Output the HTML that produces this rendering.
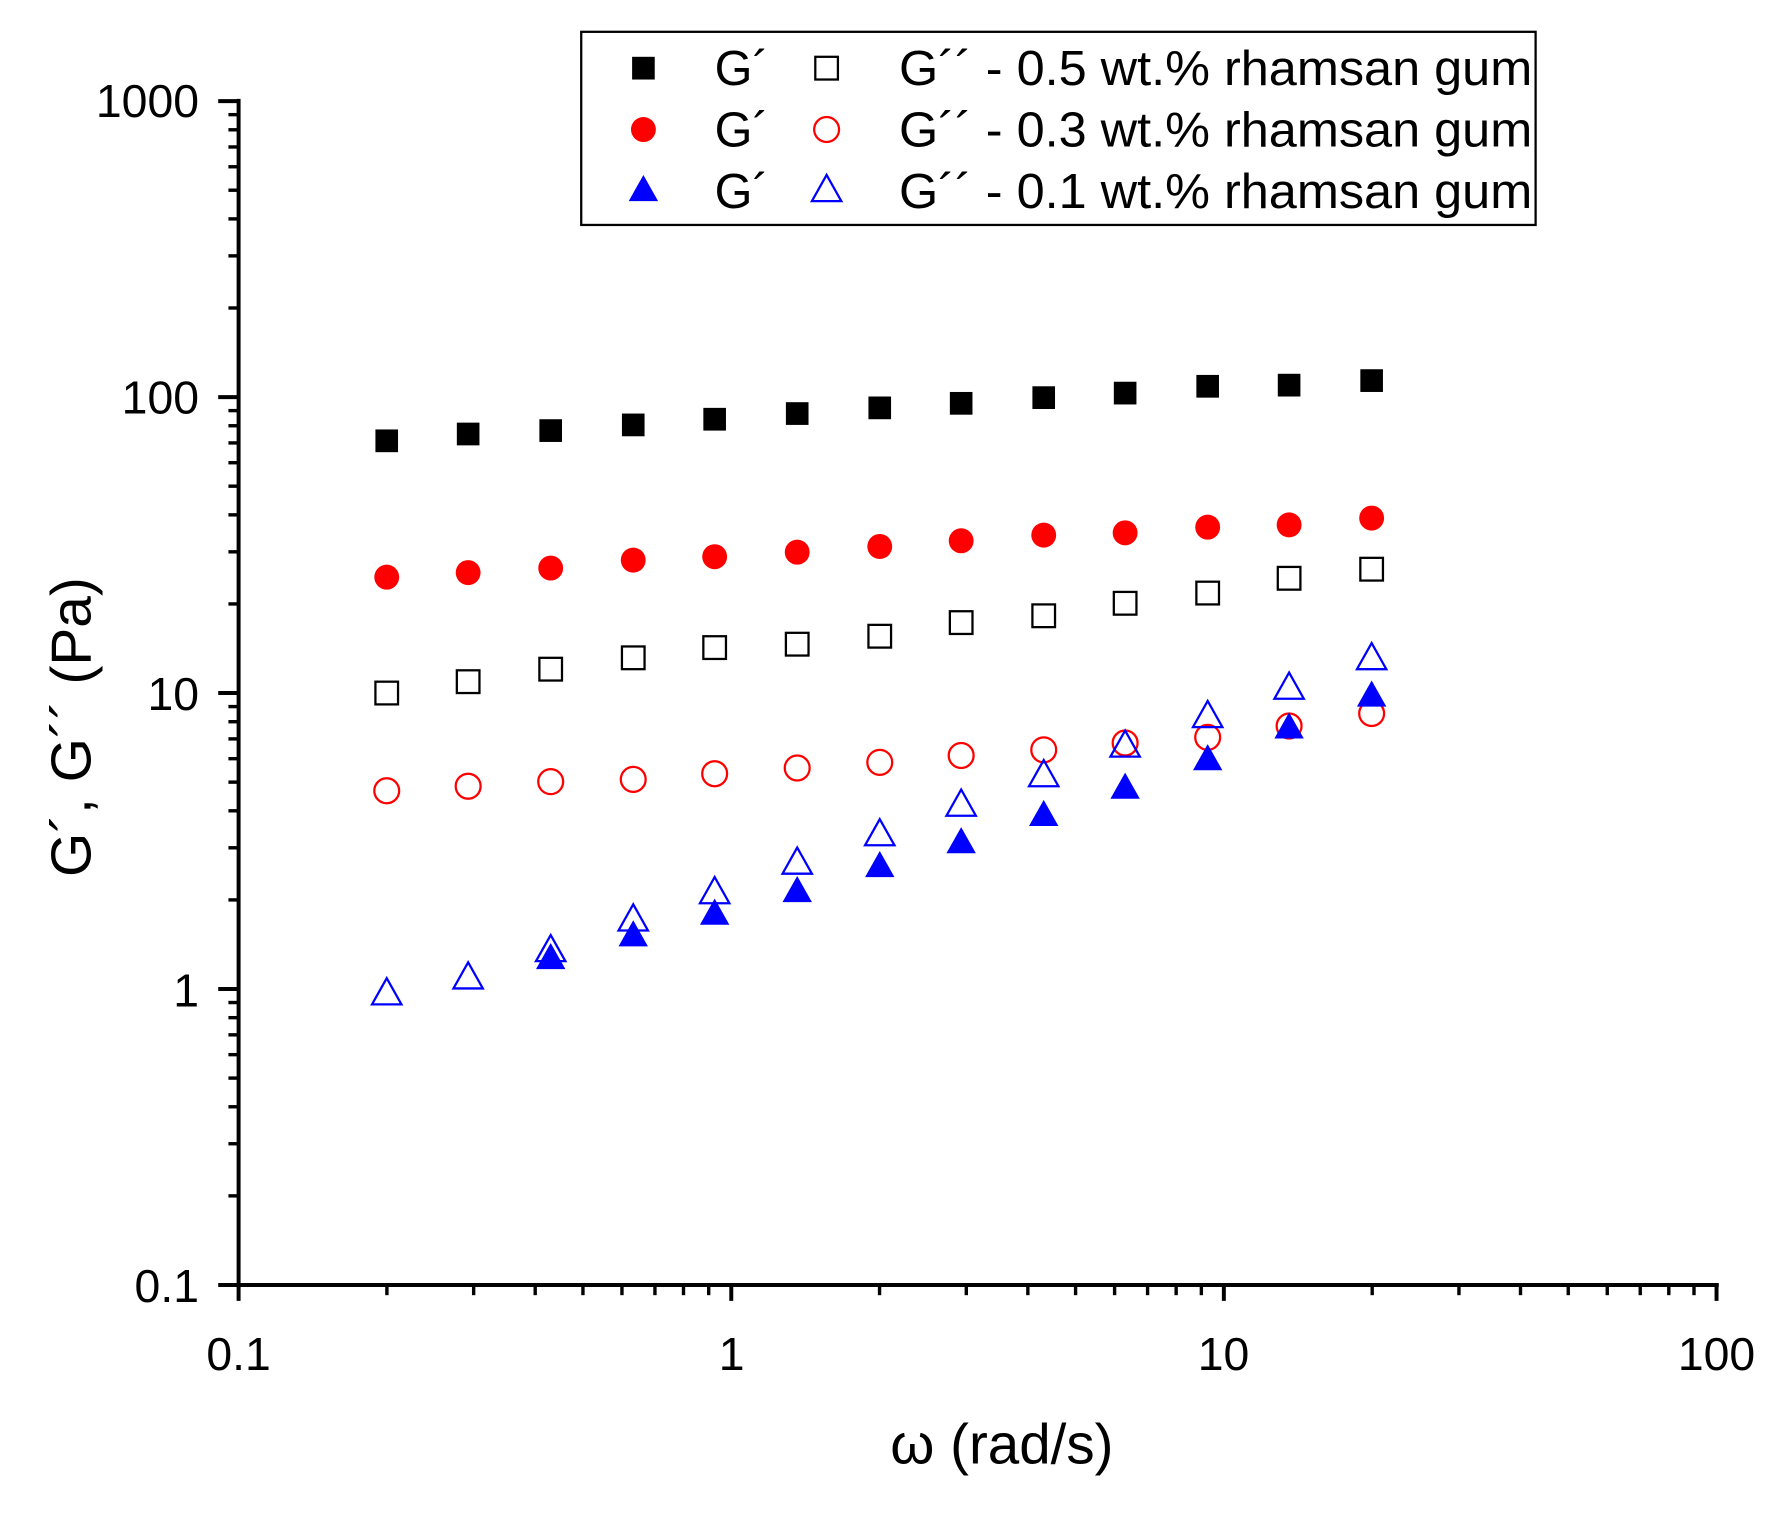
<!DOCTYPE html>
<html><head><meta charset="utf-8"><style>
html,body{margin:0;padding:0;background:#fff;}
svg{display:block;}
text{font-family:"Liberation Sans",sans-serif;}
</style></head><body>
<svg width="1772" height="1519" viewBox="0 0 1560 1337" preserveAspectRatio="none" xmlns="http://www.w3.org/2000/svg">
<defs>
<rect id="sq" x="-10" y="-10" width="20" height="20"/>
<path id="tr" d="M0,-12 L13,11 L-13,11 Z"/>
</defs>
<g transform="scale(0.9955,1)">
<g stroke="#000" stroke-width="3.5" fill="none">
<line x1="211" y1="87" x2="211" y2="1133"/>
<line x1="209" y1="1131" x2="1520" y2="1131"/>
<path d="M211,89h-18M211,349.5h-18M211,610h-18M211,870.5h-18M211,1131h-18"/>
<path d="M211,1131v14M646.7,1131v14M1082.3,1131v14M1518,1131v14"/>
</g>
<g stroke="#000" stroke-width="3" id="minor"></g>
<g font-size="41">
<text x="176" y="103" text-anchor="end">1000</text>
<text x="176" y="364" text-anchor="end">100</text>
<text x="176" y="625" text-anchor="end">10</text>
<text x="176" y="886" text-anchor="end">1</text>
<text x="176" y="1146" text-anchor="end">0.1</text>
<text x="211" y="1206" text-anchor="middle">0.1</text>
<text x="647" y="1206" text-anchor="middle">1</text>
<text x="1082" y="1206" text-anchor="middle">10</text>
<text x="1518" y="1206" text-anchor="middle">100</text>
</g>
<text x="886" y="1288" font-size="50" text-anchor="middle">ω (rad/s)</text>
<text transform="translate(80,640) rotate(-90)" font-size="50" text-anchor="middle">G´, G´´ (Pa)</text>
<rect x="514" y="28" width="844" height="170" fill="#fff" stroke="#000" stroke-width="2"/>
<use href="#sq" x="569" y="60" fill="#000"/>
<use href="#sq" x="731" y="60" fill="none" stroke="#000" stroke-width="2"/>
<circle cx="569" cy="114" r="11" fill="#f00"/>
<circle cx="731" cy="114" r="11" fill="none" stroke="#f00" stroke-width="2"/>
<use href="#tr" x="569" y="166" fill="#00f"/>
<use href="#tr" x="731" y="166" fill="none" stroke="#00f" stroke-width="2"/>
<g font-size="43">
<text x="632" y="75">G´</text><text x="795" y="75" textLength="560" lengthAdjust="spacingAndGlyphs">G´´ - 0.5 wt.% rhamsan gum</text>
<text x="632" y="129">G´</text><text x="795" y="129" textLength="560" lengthAdjust="spacingAndGlyphs">G´´ - 0.3 wt.% rhamsan gum</text>
<text x="632" y="183">G´</text><text x="795" y="183" textLength="560" lengthAdjust="spacingAndGlyphs">G´´ - 0.1 wt.% rhamsan gum</text>
</g>
<g id="data"></g>
</g>
<script>
var NS="http://www.w3.org/2000/svg";
var m=document.getElementById('minor');
function ln(x1,y1,x2,y2){var l=document.createElementNS(NS,'line');l.setAttribute('x1',x1);l.setAttribute('y1',y1);l.setAttribute('x2',x2);l.setAttribute('y2',y2);m.appendChild(l);}
for(var d=0;d<4;d++)for(var k=2;k<10;k++){var f=Math.log10(k);var y=1131-(d+f)*260.5;ln(211,y,202,y);var x=211+(d+f)*435.67;if(d<3)ln(x,1131,x,1140);}
var xs=[342,414,487,560,632,705,778,850,923,995,1068,1140,1213];
var S={
bf:[388,382,379,374,369,364,359,355,350,346,340,339,335],
rf:[508,504,500,493,490,486,481,476,471,469,464,462,456],
bo:[610,600,589,579,570,567,560,548,542,531,522,509,501],
ro:[696,692,688,686,681,676,671,665,660,654,649,639,628],
tf:[null,null,842,822,803,783,761,740,716,692,667,639,611],
to:[873,859,835,808,784,758,733,707,681,655,629,604,578]};
var g=document.getElementById('data');
function add(tag,attrs){var e=document.createElementNS(NS,tag);for(var a in attrs)e.setAttribute(a,attrs[a]);g.appendChild(e);}
xs.forEach(function(x,i){
add('use',{href:'#sq',x:x,y:S.bf[i],fill:'#000'});
add('use',{href:'#sq',x:x,y:S.bo[i],fill:'none',stroke:'#000','stroke-width':2});
add('circle',{cx:x,cy:S.rf[i],r:11,fill:'#f00'});
add('circle',{cx:x,cy:S.ro[i],r:11,fill:'none',stroke:'#f00','stroke-width':2});
if(S.tf[i]!==null)add('use',{href:'#tr',x:x,y:S.tf[i],fill:'#00f'});
add('use',{href:'#tr',x:x,y:S.to[i],fill:'none',stroke:'#00f','stroke-width':2});
});
</script>
</svg>
</body></html>
